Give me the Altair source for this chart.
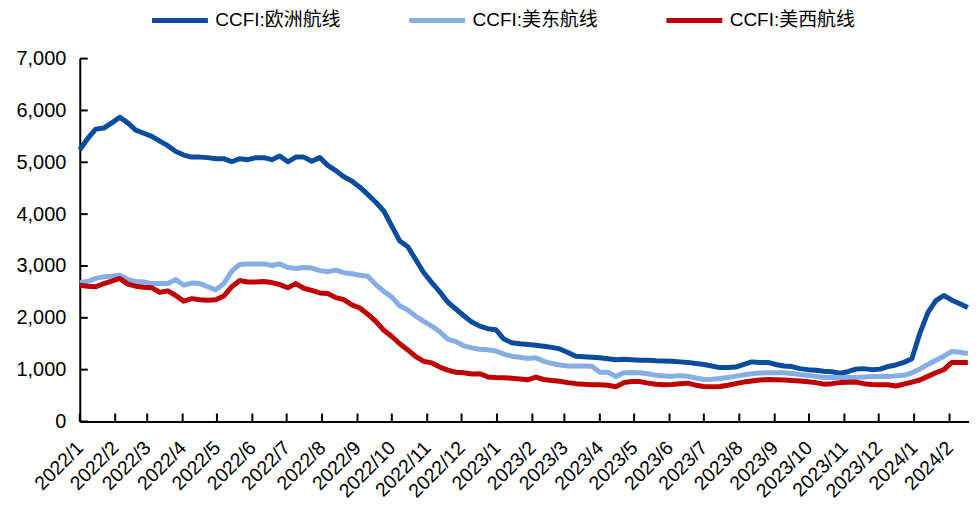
import altair as alt
import pandas as pd

# ---- data (weekly CCFI) ----
first_week = "2022-01-07"
n_weeks = 112

europe = [5240, 5460, 5640, 5660, 5760, 5870, 5760, 5620, 5560, 5500,
          5410, 5320, 5210, 5140, 5100, 5100, 5090, 5070, 5070, 5010,
          5070, 5050, 5090, 5090, 5050, 5120, 5010, 5100, 5100, 5020,
          5090, 4940, 4840, 4720, 4640, 4520, 4380, 4230, 4060, 3770,
          3480, 3370, 3120, 2870, 2680, 2500, 2300, 2170, 2040, 1920,
          1840, 1790, 1770, 1590, 1520, 1500, 1485, 1470, 1450, 1430,
          1400, 1330, 1260, 1250, 1240, 1230, 1210, 1190, 1200, 1190,
          1180, 1180, 1170, 1165, 1160, 1150, 1140, 1120, 1100, 1070,
          1040, 1040, 1050, 1100, 1150, 1140, 1140, 1100, 1070, 1060,
          1020, 1000, 990, 970, 960, 930, 960, 1010, 1020, 1000,
          1010, 1060, 1090, 1140, 1210, 1700, 2100, 2330, 2430, 2340,
          2270, 2200]

us_east = [2680, 2700, 2760, 2790, 2800, 2820, 2740, 2700, 2690, 2660,
           2660, 2660, 2740, 2630, 2670, 2660, 2600, 2540, 2660, 2900,
           3030, 3040, 3040, 3040, 3010, 3040, 2970, 2950, 2970, 2960,
           2910, 2890, 2920, 2870, 2850, 2820, 2800, 2640, 2510, 2400,
           2230, 2150, 2030, 1930, 1840, 1730, 1590, 1540, 1460, 1420,
           1395, 1385, 1360, 1300, 1260, 1240, 1215, 1230, 1160, 1120,
           1090, 1070, 1070, 1070, 1065, 950, 950, 870, 940, 945,
           940, 920, 890, 880, 870, 885, 870, 840, 810, 815,
           830, 850, 875, 900, 920, 935, 940, 940, 940, 925,
           905, 890, 870, 850, 850, 850, 850, 850, 860, 870,
           870, 870, 880, 890, 940, 1010, 1100, 1180, 1260, 1350,
           1335, 1310]

us_west = [2630, 2610, 2600, 2660, 2710, 2760, 2650, 2610, 2590, 2580,
           2490, 2520, 2430, 2320, 2370, 2350, 2340, 2350, 2420, 2600,
           2720, 2690, 2690, 2700, 2680, 2640, 2580, 2660, 2570, 2530,
           2480, 2470, 2390, 2350, 2250, 2190, 2070, 1930, 1760, 1640,
           1500, 1380, 1250, 1160, 1130, 1050, 990, 950, 940, 915,
           920, 860, 850, 845, 835, 820, 805, 855, 810, 790,
           775, 750, 730, 720, 710, 710, 700, 670, 750, 770,
           770, 740, 720, 710, 715, 730, 740, 700, 675, 670,
           675, 700, 730, 760, 780, 800, 810, 805, 800, 790,
           780, 765, 750, 720, 730, 750, 755, 760, 730, 715,
           710, 710, 685, 720, 760, 800, 870, 940, 1000, 1140,
           1140, 1140]

series_names = ["CCFI:欧洲航线", "CCFI:美东航线", "CCFI:美西航线"]
series_colors = ["#0A4C9E", "#85AEE6", "#C00000"]

month_ticks = ["2022-01-07", "2022-02-07", "2022-03-07", "2022-04-07", "2022-05-07",
               "2022-06-07", "2022-07-07", "2022-08-07", "2022-09-07", "2022-10-07",
               "2022-11-07", "2022-12-07", "2023-01-07", "2023-02-07", "2023-03-07",
               "2023-04-07", "2023-05-07", "2023-06-07", "2023-07-07", "2023-08-07",
               "2023-09-07", "2023-10-07", "2023-11-07", "2023-12-07", "2024-01-07",
               "2024-02-07"]
y_ticks = [0, 1000, 2000, 3000, 4000, 5000, 6000, 7000]

# ---- build table ----
dates = pd.date_range(first_week, periods=n_weeks, freq="7D")
rows = []
for name, vals in zip(series_names, [europe, us_east, us_west]):
    for d, v in zip(dates, vals):
        rows.append({"date": d.strftime("%Y-%m-%d"), "value": v, "series": name})
df = pd.DataFrame(rows)

W, H = 892, 364
FONT = "Liberation Sans, Arial, Noto Sans CJK SC, sans-serif"

x_scale = alt.Scale(domain=[alt.DateTime(year=2022, month=1, date=7),
                            alt.DateTime(year=2024, month=2, date=24)])
y_scale = alt.Scale(domain=[0, 7000], nice=False)

x_axis = alt.Axis(title=None, values=month_ticks, format="%Y/%-m",
                  labelAngle=-45, labelAlign="right", labelBaseline="middle",
                  labelFontSize=19.5, labelColor="black", labelPadding=23,
                  ticks=False, domainColor="black", domainWidth=2,
                  grid=False, labelOverlap=False, labelFont=FONT,
                  labelBound=False, labelFlush=False)
y_axis = alt.Axis(title=None, values=y_ticks, format=",d",
                  labelFontSize=20, labelColor="black", labelPadding=14,
                  ticks=False, domainColor="black", domainWidth=2,
                  grid=False, labelFont=FONT, labelOverlap=False)

lines = alt.Chart(df).mark_line(strokeWidth=5, strokeJoin="round").encode(
    x=alt.X("date:T", scale=x_scale, axis=x_axis),
    y=alt.Y("value:Q", scale=y_scale, axis=y_axis),
    color=alt.Color("series:N",
                    scale=alt.Scale(domain=series_names, range=series_colors),
                    sort=series_names,
                    legend=alt.Legend(title=None, orient="none", direction="horizontal",
                                      legendX=70, legendY=-69,
                                      symbolType="stroke", symbolSize=3136,
                                      symbolStrokeWidth=5, labelFontSize=19,
                                      labelColor="black", labelFont=FONT,
                                      labelOffset=5, columnPadding=58, padding=0)),
    order=alt.Order("date:T"),
)

tick_df = pd.DataFrame({"date": month_ticks})
x_tick_marks = alt.Chart(tick_df).mark_rule(color="black", strokeWidth=2).encode(
    x=alt.X("date:T", scale=x_scale, axis=x_axis),
    y=alt.value(H - 8), y2=alt.value(H),
)

ytick_df = pd.DataFrame({"value": y_ticks})
y_tick_marks = alt.Chart(ytick_df).mark_rule(color="black", strokeWidth=2).encode(
    y=alt.Y("value:Q", scale=y_scale, axis=y_axis),
    x=alt.value(0), x2=alt.value(8),
)

chart = alt.layer(lines, x_tick_marks, y_tick_marks).properties(
    width=W, height=H,
    background="white",
    autosize=alt.AutoSizeParams(type="none"),
    padding={"left": 72, "top": 50, "right": 0, "bottom": 86},
).configure_view(stroke=None).configure_axis(labelOverlap=False, grid=False)

chart.save("out.html", embed_options={"renderer": "svg", "actions": False})
